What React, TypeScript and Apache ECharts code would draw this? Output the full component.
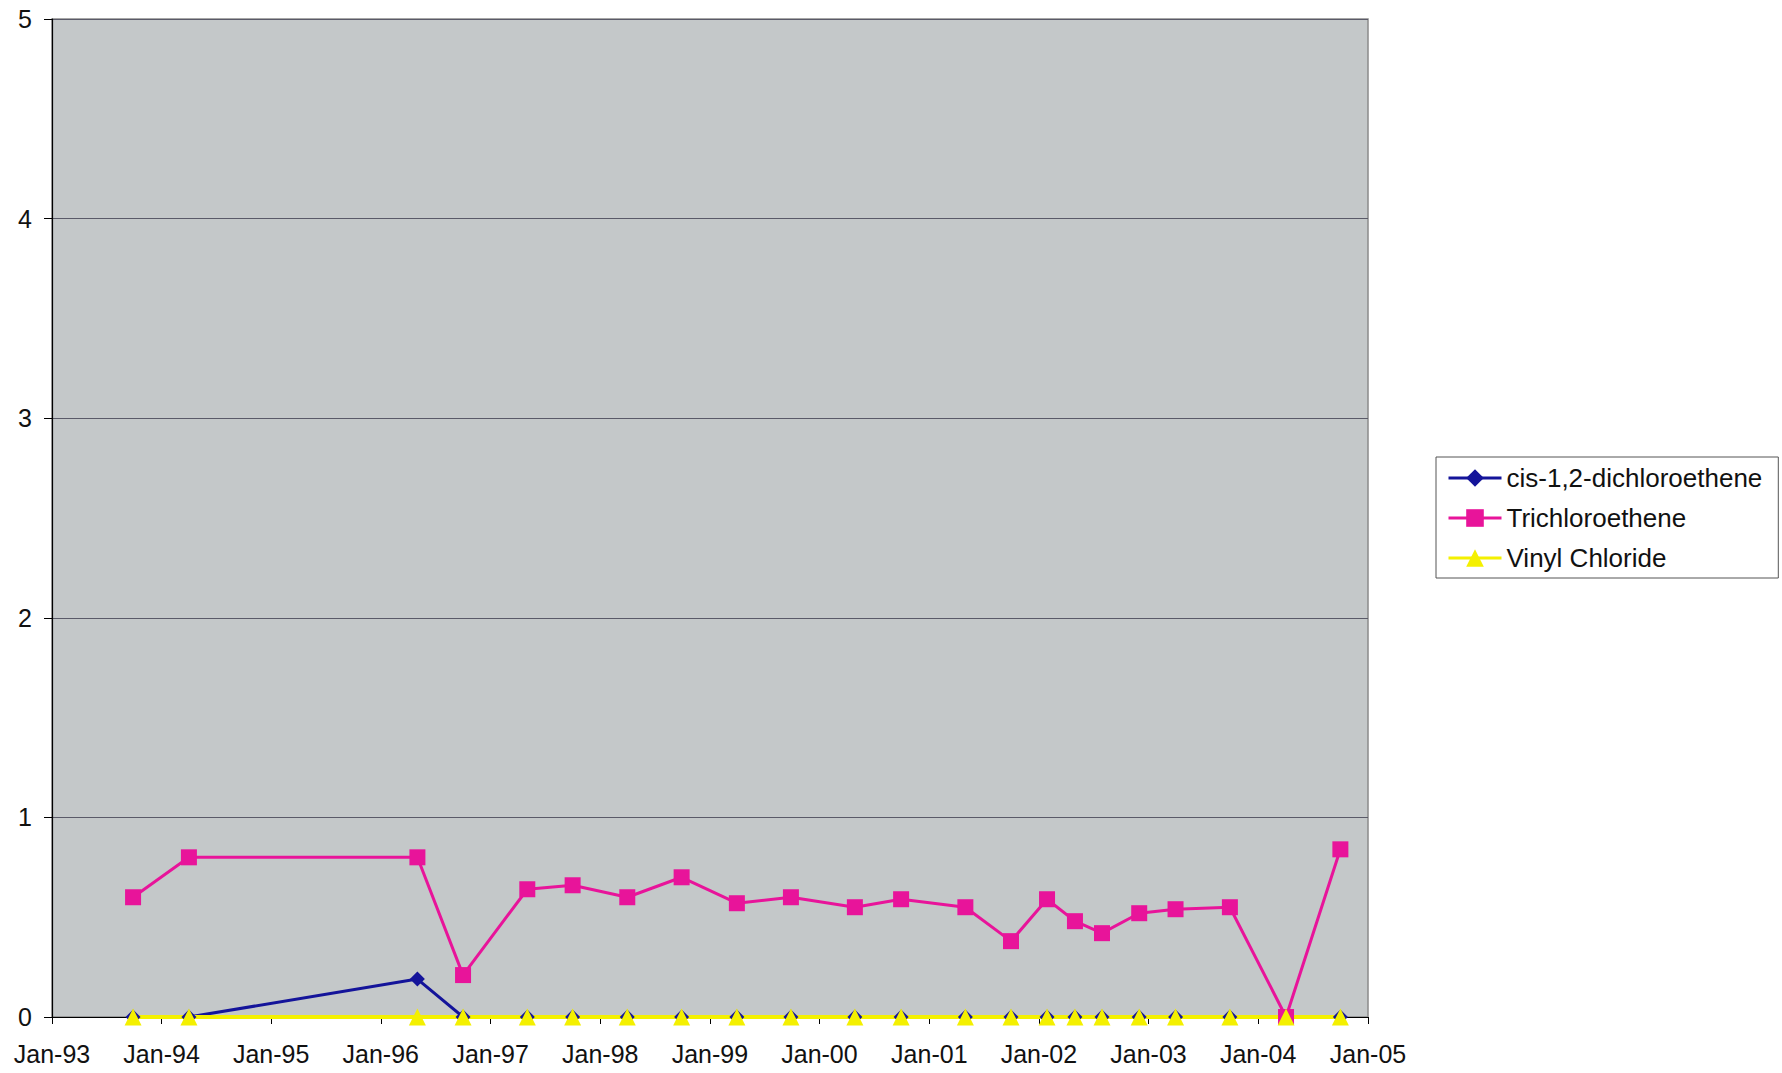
import React, { useEffect, useRef } from "react";
import * as echarts from "echarts";

// Sampling dates (yyyy-mm-dd) shared by all three compounds
const sampleDates = [
  "1993-09-28", "1994-04-02", "1996-05-02", "1996-10-01", "1997-05-03",
  "1997-10-01", "1998-04-01", "1998-09-29", "1999-04-01", "1999-09-28",
  "2000-04-28", "2000-09-29", "2001-05-01", "2001-09-30", "2002-01-28",
  "2002-05-01", "2002-07-30", "2002-12-01", "2003-04-01", "2003-09-29",
  "2004-04-03", "2004-10-01",
];

const cisDce = [
  0, 0, 0.19, 0, 0, 0, 0, 0, 0, 0, 0, 0, 0, 0, 0, 0, 0, 0, 0, 0, 0, 0,
];

const tce = [
  0.6, 0.8, 0.8, 0.21, 0.64, 0.66, 0.6, 0.7, 0.57, 0.6, 0.55, 0.59, 0.55,
  0.38, 0.59, 0.48, 0.42, 0.52, 0.54, 0.55, 0, 0.84,
];

const vinylChloride = [
  0, 0, 0, 0, 0, 0, 0, 0, 0, 0, 0, 0, 0, 0, 0, 0, 0, 0, 0, 0, 0, 0,
];

const seriesNames = ["cis-1,2-dichloroethene", "Trichloroethene", "Vinyl Chloride"];

const xTickLabels = [
  "Jan-93", "Jan-94", "Jan-95", "Jan-96", "Jan-97", "Jan-98", "Jan-99",
  "Jan-00", "Jan-01", "Jan-02", "Jan-03", "Jan-04", "Jan-05",
];
const firstYear = 1993;
const lastYear = 2005;

const FONT = "'Liberation Sans', Arial, sans-serif";

function toTime(s: string): number {
  const [y, m, d] = s.split("-").map(Number);
  return new Date(y, m - 1, d).getTime();
}

function pairs(values: number[]): [number, number][] {
  return sampleDates.map((s, i) => [toTime(s), values[i]]);
}

export default function App() {
  const ref = useRef<HTMLDivElement>(null);

  useEffect(() => {
    document.body.style.margin = "0";
    document.body.style.background = "#ffffff";
    if (!ref.current) return;
    const chart = echarts.init(ref.current, undefined, { renderer: "svg" });

    chart.setOption({
      animation: false,
      backgroundColor: "#ffffff",
      textStyle: { fontFamily: FONT },
      grid: {
        left: 52,
        top: 19,
        right: 414,
        bottom: 56,
        show: true,
        backgroundColor: "#c4c8c9",
        borderColor: "#8a8a8a",
        borderWidth: 1.5,
        containLabel: false,
      },
      legend: {
        orient: "vertical",
        left: 1436,
        top: 457,
        padding: [8, 16, 7, 11],
        itemWidth: 53,
        itemHeight: 22,
        itemGap: 14,
        backgroundColor: "#ffffff",
        borderColor: "#555555",
        borderWidth: 1,
        lineStyle: { width: 3 },
        textStyle: { fontFamily: FONT, fontSize: 26, color: "#111111" },
        data: seriesNames,
      },
      xAxis: {
        type: "time",
        min: new Date(firstYear, 0, 1).getTime(),
        max: new Date(lastYear, 0, 1).getTime(),
        splitNumber: 12,
        minInterval: 365 * 86400000,
        maxInterval: 366 * 86400000,
        axisLine: { show: true, lineStyle: { color: "#000000", width: 1.2 } },
        axisTick: { show: true, inside: false, length: 7, lineStyle: { color: "#000000" } },
        splitLine: { show: false },
        minorTick: { show: false },
        axisLabel: {
          show: true,
          interval: 0,
          showMinLabel: true,
          showMaxLabel: true,
          hideOverlap: false,
          margin: 24,
          fontSize: 25,
          fontFamily: FONT,
          color: "#111111",
          formatter: (value: number) => {
            const idx = new Date(value).getFullYear() - firstYear;
            return xTickLabels[idx] ?? "";
          },
        },
      },
      yAxis: {
        type: "value",
        min: 0,
        max: 5,
        interval: 1,
        axisLine: { show: true, lineStyle: { color: "#000000", width: 1.2 } },
        axisTick: { show: true, inside: false, length: 8, lineStyle: { color: "#000000" } },
        splitLine: { show: true, lineStyle: { color: "#5a5a68", width: 1 } },
        axisLabel: {
          margin: 20,
          fontSize: 25,
          fontFamily: FONT,
          color: "#111111",
        },
      },
      series: [
        {
          name: seriesNames[0],
          type: "line",
          data: pairs(cisDce),
          symbol: "diamond",
          symbolSize: 15,
          clip: false,
          itemStyle: { color: "#14149a" },
          lineStyle: { color: "#14149a", width: 3 },
        },
        {
          name: seriesNames[1],
          type: "line",
          data: pairs(tce),
          symbol: "rect",
          symbolSize: 16,
          clip: false,
          itemStyle: { color: "#e8149a" },
          lineStyle: { color: "#e8149a", width: 3 },
        },
        {
          name: seriesNames[2],
          type: "line",
          data: pairs(vinylChloride),
          symbol: "triangle",
          symbolSize: 17,
          clip: false,
          itemStyle: { color: "#f4f000" },
          lineStyle: { color: "#f4f000", width: 4 },
        },
      ],
    });

    return () => chart.dispose();
  }, []);

  return <div ref={ref} style={{ width: 1782, height: 1073 }} />;
}
